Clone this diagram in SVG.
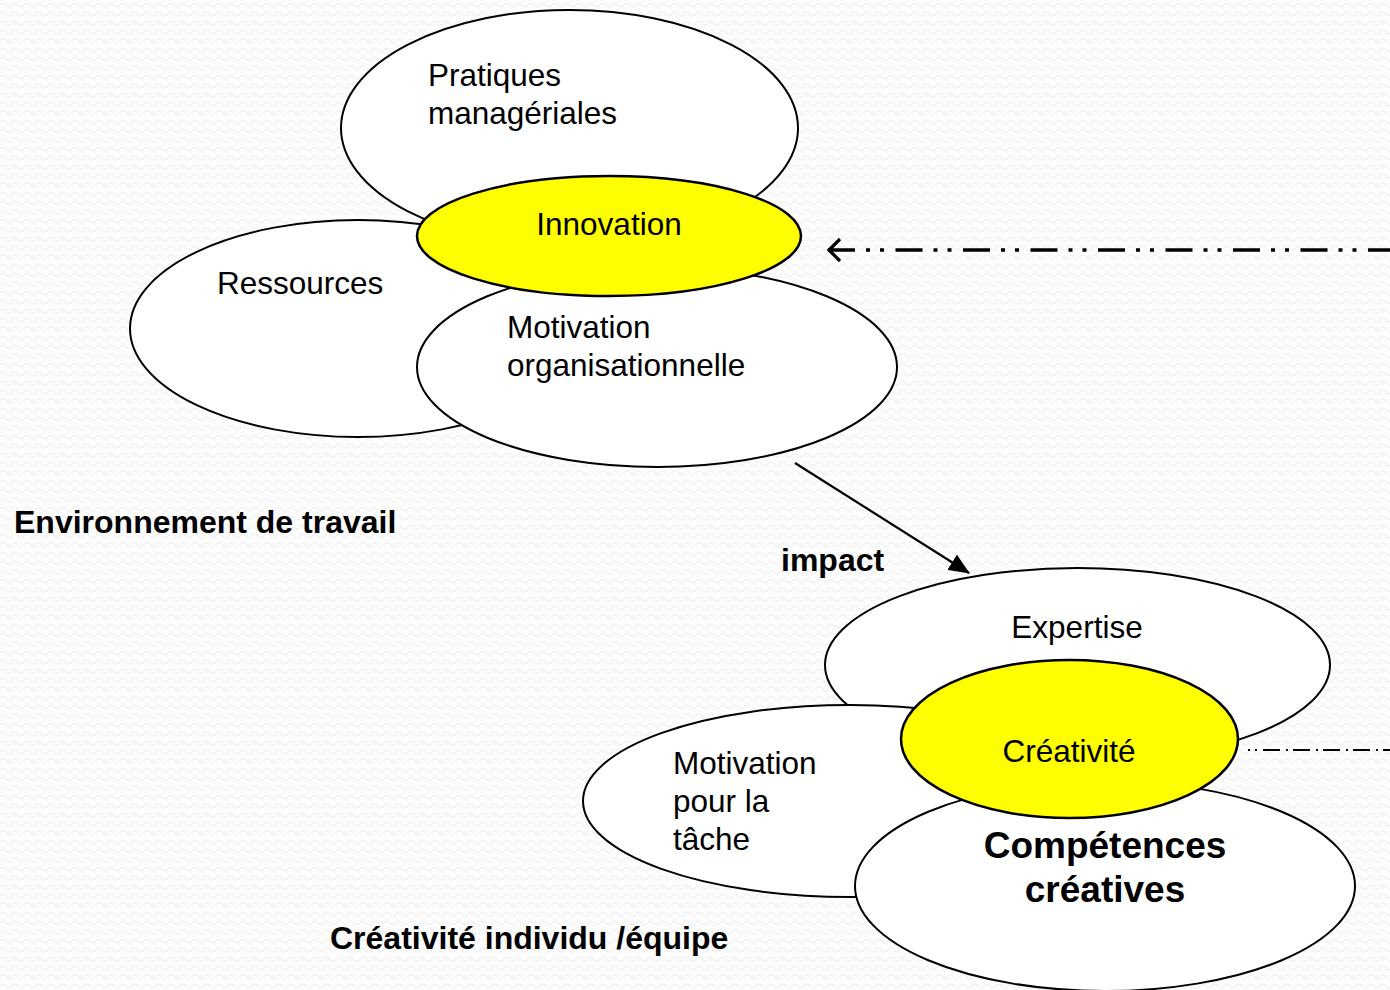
<svg xmlns="http://www.w3.org/2000/svg" width="1390" height="990" viewBox="0 0 1390 990">
<defs>
<pattern id="bg" width="12" height="9" patternUnits="userSpaceOnUse">
<rect width="12" height="9" fill="#fdfdfd"/>
<path d="M0 5 Q3 1 6 5 T12 5" fill="none" stroke="#f0f0f0" stroke-width="1.2"/>
</pattern>
<marker id="open" markerWidth="16" markerHeight="26" refX="14" refY="13" orient="auto-start-reverse" markerUnits="userSpaceOnUse">
<path d="M2 2 L13 13 L2 24" fill="none" stroke="#000" stroke-width="3.2"/>
</marker>
<marker id="filled" markerWidth="22" markerHeight="18" refX="20" refY="9" orient="auto" markerUnits="userSpaceOnUse">
<path d="M0 0 L21 9 L0 18 Z" fill="#000"/>
</marker>
</defs>
<style>
.w{fill:#fff;stroke:#000;stroke-width:2}
.y{fill:#ffff00;stroke:#000;stroke-width:2.5}
.t{font-family:"Liberation Sans",Arial,sans-serif;font-size:31.5px;fill:#000}
.b{font-family:"Liberation Sans",Arial,sans-serif;font-size:32px;font-weight:bold;fill:#000}
.m{text-anchor:middle}
</style>
<rect width="1390" height="990" fill="url(#bg)"/>

<g id="pratiques"><ellipse class="w" cx="569.5" cy="128" rx="228.5" ry="118"/>
<text class="t" x="428" y="86">Pratiques</text><text class="t" x="428" y="124">managériales</text></g>
<g id="ressources"><ellipse class="w" cx="358" cy="328.5" rx="228" ry="108.5"/>
<text class="t" x="217" y="294">Ressources</text></g>
<g id="motivation-org"><ellipse class="w" cx="657" cy="367" rx="240" ry="100"/>
<text class="t" x="507" y="338">Motivation</text><text class="t" x="507" y="376">organisationnelle</text></g>
<g id="innovation"><ellipse class="y" cx="609" cy="236" rx="192" ry="60"/>
<text class="t m" x="609" y="235">Innovation</text></g>

<g id="expertise"><ellipse class="w" cx="1077.5" cy="665" rx="252.5" ry="97"/>
<text class="t m" x="1077" y="638">Expertise</text></g>
<g id="motivation-tache"><ellipse class="w" cx="850" cy="801" rx="267" ry="96"/>
<text class="t" x="673" y="774">Motivation</text><text class="t" x="673" y="812">pour la</text><text class="t" x="673" y="850">tâche</text></g>
<g id="competences"><ellipse class="w" cx="1105" cy="886" rx="250" ry="105"/>
<text class="b m" style="font-size:37px" x="1105" y="858">Compétences</text><text class="b m" style="font-size:37px" x="1105" y="902">créatives</text></g>
<g id="creativite"><ellipse class="y" cx="1069.5" cy="739" rx="168.5" ry="79"/>
<text class="t m" x="1069" y="762">Créativité</text></g>

<g id="labels">
<text class="b" x="14" y="533">Environnement de travail</text>
<text class="b" x="781" y="571">impact</text>
<text class="b" x="330" y="949">Créativité individu /équipe</text>
</g>

<g id="connectors">
<line x1="828" y1="250" x2="1390" y2="250" stroke="#000" stroke-width="3.5" stroke-dasharray="27 11 4 10 4 11.5" marker-start="url(#open)"/>
<line x1="1248" y1="750" x2="1390" y2="750" stroke="#000" stroke-width="2" stroke-dasharray="2 5 2 6 17 6 2 5 17 6 2 5 17 6 2 5 17 6 2 5 17 6 2 5"/>
<line x1="795" y1="463" x2="969" y2="573" stroke="#000" stroke-width="2.2" marker-end="url(#filled)"/>
</g>
</svg>
